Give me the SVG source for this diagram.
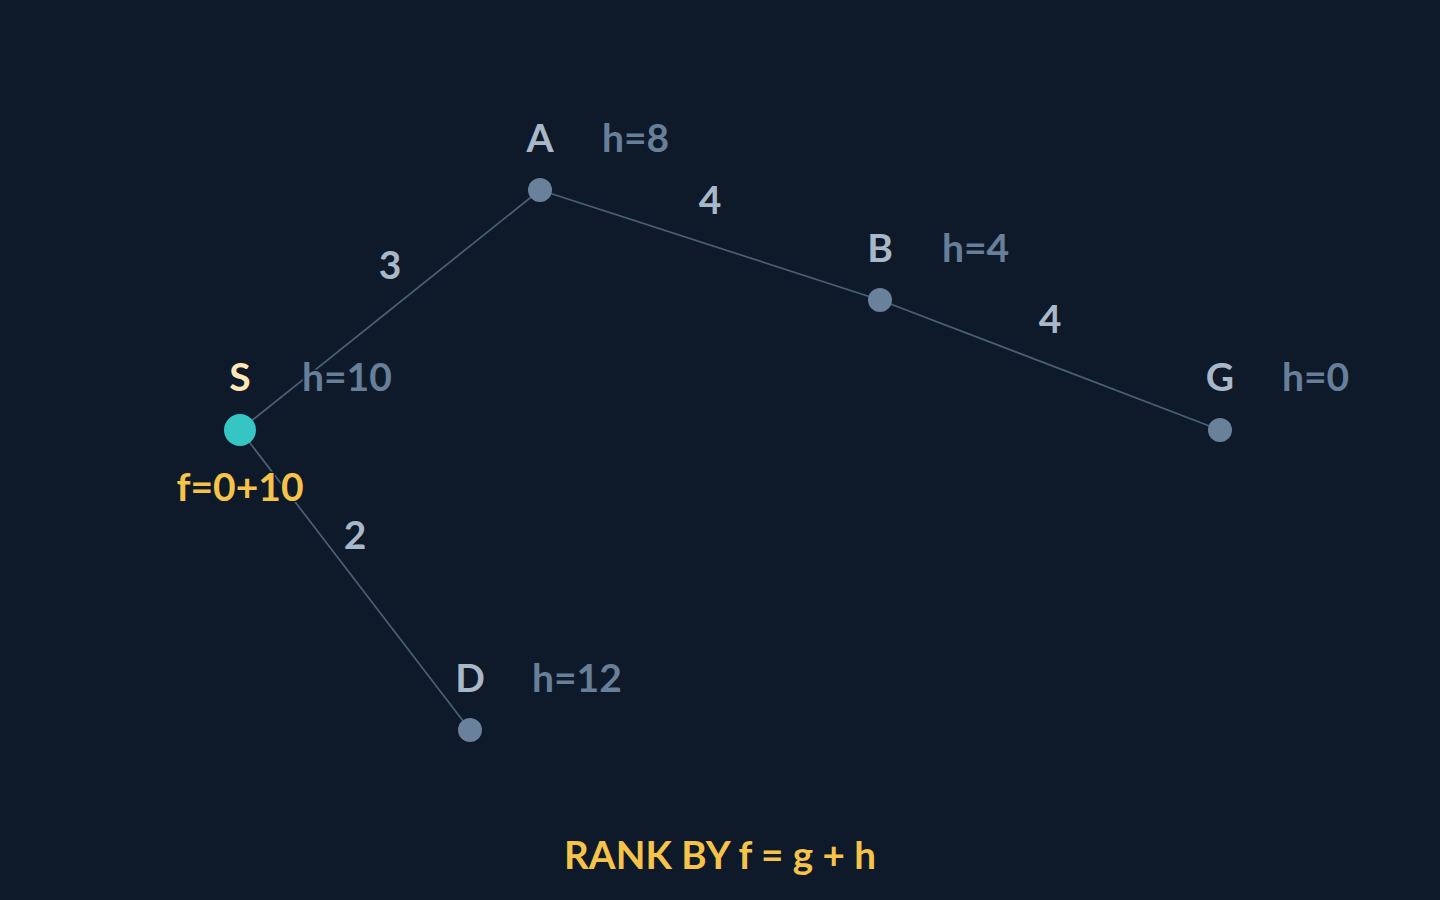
<svg xmlns="http://www.w3.org/2000/svg" width="1440" height="900" viewBox="0 0 1440 900">
<style>
text{font-family:Lato,"Noto Sans",sans-serif;font-weight:700;paint-order:stroke;stroke:#0e1a2a;stroke-width:3px;stroke-linejoin:round}
.name{font-size:39px;fill:#a9b8c9;text-anchor:middle}
.h{font-size:39px;fill:#687f99;text-anchor:start}
.w{font-size:39px;fill:#a9b8c9;text-anchor:middle}
.edge{stroke:#4b6075;stroke-width:1.7;fill:none}
.node{fill:#6a819c}
</style>
<rect width="1440" height="900" fill="#0e1a2a"/>
<g id="connectors">
<line class="edge" x1="240" y1="430" x2="540" y2="190"/>
<line class="edge" x1="540" y1="190" x2="880" y2="300"/>
<line class="edge" x1="880" y1="300" x2="1220" y2="430"/>
<line class="edge" x1="240" y1="430" x2="470" y2="730"/>
<text class="w" x="390" y="279">3</text>
<text class="w" x="710" y="214">4</text>
<text class="w" x="1050" y="333">4</text>
<text class="w" x="355" y="549">2</text>
</g>
<g id="node-S">
<circle cx="240" cy="430" r="16" fill="#35c6c4"/>
<text class="name" x="240" y="391" style="fill:#fde7b8">S</text>
<text class="h" x="302" y="391">h=10</text>
<text x="240" y="501" style="font-size:39px;fill:#f5c24a;text-anchor:middle">f=0+10</text>
</g>
<g id="node-A">
<circle class="node" cx="540" cy="190" r="12"/>
<text class="name" x="540" y="152">A</text>
<text class="h" x="602" y="152">h=8</text>
</g>
<g id="node-B">
<circle class="node" cx="880" cy="300" r="12"/>
<text class="name" x="880" y="262">B</text>
<text class="h" x="942" y="262">h=4</text>
</g>
<g id="node-G">
<circle class="node" cx="1220" cy="430" r="12"/>
<text class="name" x="1220" y="391">G</text>
<text class="h" x="1282" y="391">h=0</text>
</g>
<g id="node-D">
<circle class="node" cx="470" cy="730" r="12"/>
<text class="name" x="470" y="692">D</text>
<text class="h" x="532" y="692">h=12</text>
</g>
<text x="720" y="869" style="font-size:38.6px;fill:#f5c24a;text-anchor:middle">RANK BY f = g + h</text>
</svg>
